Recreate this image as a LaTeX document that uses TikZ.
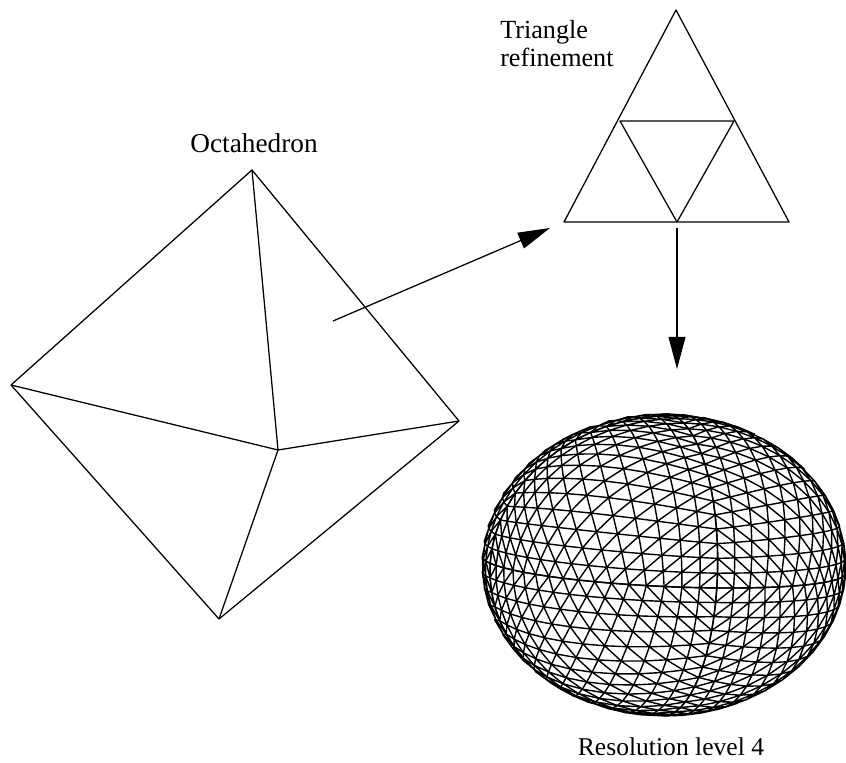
\documentclass[tikz,border=0pt]{standalone}
\usepackage{fontspec}
\setmainfont{Liberation Serif}
\usetikzlibrary{arrows.meta}
\newcommand{\gw}[1]{sin(5.625*#1)}
\newcommand{\nw}[3]{sqrt(\gw{#1}*\gw{#1}+\gw{#2}*\gw{#2}+\gw{#3}*\gw{#3})}
\newcommand{\meshpt}[3]{({\sa*\gw{#1}/\nw{#1}{#2}{#3}},{\sb*\gw{#2}/\nw{#1}{#2}{#3}},{\sc*\gw{#3}/\nw{#1}{#2}{#3}})}
\begin{document}
\begin{tikzpicture}[
  x = 0.025cm, y = -0.025cm,
  kante/.style = {line width=0.9pt, line join=round, black},
  netz/.style = {line width=1pt, line join=round, black},
  pfeil/.style = {-{Triangle[length=0.8cm, width=0.42cm]}, line width=0.9pt},
  titel/.style = {font=\fontsize{18.6}{20}\selectfont, align=left, inner sep=0pt},
]
\useasboundingbox (0,0) rectangle (846,762);
% octahedron
\coordinate (oben) at (252,170);
\coordinate (links) at (11,385);
\coordinate (mitte) at (278,450);
\coordinate (rechts) at (459,421);
\coordinate (unten) at (219,619);
\draw[kante] (links) -- (oben) -- (rechts) -- (unten) -- cycle;
\draw[kante] (oben) -- (mitte); \draw[kante] (links) -- (mitte);
\draw[kante] (rechts) -- (mitte); \draw[kante] (unten) -- (mitte);
% triangle
\coordinate (ta) at (676,10);
\coordinate (tb) at (564,222);
\coordinate (tc) at (789,222);
\coordinate (td) at (620,121);
\coordinate (te) at (734,121);
\coordinate (tf) at (677,222);
\draw[kante] (ta) -- (tb) -- (tc) -- cycle;
\draw[kante] (td) -- (te) -- (tf) -- cycle;
% arrows
\coordinate (p1) at (333,321);
\coordinate (p2) at (550,228);
\coordinate (p3) at (677,228);
\coordinate (p4) at (677,369);
\draw[pfeil] (p1) -- (p2);
\draw[pfeil] (p3) -- (p4);
% labels
\node[titel, font=\fontsize{19.4}{20}\selectfont, anchor=center] (octa) at (254,143) {Octahedron};
\node[titel, anchor=north west] (tri) at (500,20) {Triangle\\refinement};
\node[titel, font=\fontsize{18.2}{20}\selectfont, anchor=center] (res) at (671,747) {Resolution level 4};
% sphere mesh
\begin{scope}[shift={(664,565)}, x={(4.345cm,-0.042cm)}, y={(0.241cm,3.733cm)}, z={(1.32cm,-0.574cm)}]
\foreach \sa/\sb/\sc in {1/1/1, 1/-1/1, -1/1/1, -1/-1/1, 1/1/-1, -1/1/-1, -1/-1/-1, 1/-1/-1} {
  \foreach \ia in {0,...,15} {
    \pgfmathtruncatemacro{\jmax}{15-\ia}
    \foreach \ja in {0,...,\jmax} {
      \pgfmathtruncatemacro{\ka}{15-\ia-\ja}
      \pgfmathtruncatemacro{\ip}{\ia+1}
      \pgfmathtruncatemacro{\jp}{\ja+1}
      \pgfmathtruncatemacro{\kp}{\ka+1}
      \pgfmathtruncatemacro{\vorne}{(\gw{(\ia+0.33)}*\sa*(-0.295)+\gw{(\ja+0.33)}*\sb*0.135+\gw{(\ka+0.33)}*\sc*0.945)>0 ? 1 : 0}
      \ifnum\vorne=1
        \draw[netz] \meshpt{\ip}{\ja}{\ka} -- \meshpt{\ia}{\jp}{\ka} -- \meshpt{\ia}{\ja}{\kp} -- cycle;
      \fi
    }
  }
}
\end{scope}
\end{tikzpicture}
\end{document}
